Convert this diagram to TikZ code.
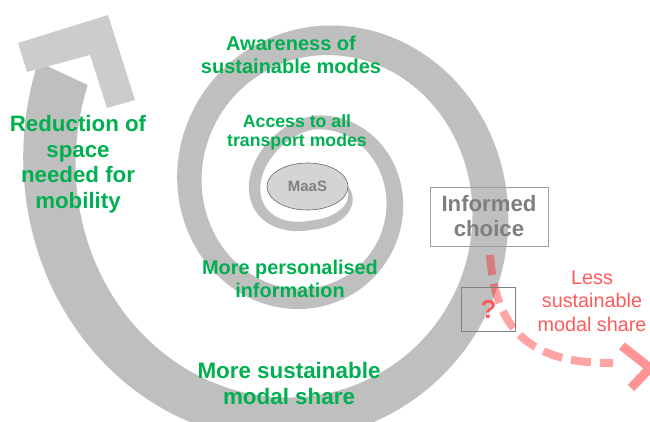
\documentclass[tikz,border=0pt]{standalone}
\usepackage{fontspec}
\setmainfont{Liberation Sans}
\usetikzlibrary{shapes.geometric}
\definecolor{bandgray}{RGB}{191,191,191}
\definecolor{headgray}{RGB}{204,204,204}
\definecolor{greentxt}{RGB}{0,176,80}
\definecolor{graytxt}{RGB}{127,127,127}
\definecolor{boxline}{RGB}{160,160,160}
\definecolor{redtxt}{RGB}{255,90,90}
\definecolor{maasfill}{RGB}{212,212,212}
\begin{document}
\begin{tikzpicture}[x=1pt,y=-1pt,
  declare function={
    spA(\t)=56.5*exp(0.0021213*(\t-180));
    spF(\t)=min(1,max(0.64,0.64+0.36*(\t-90)/180));
    spB(\t)=1.04*spA(\t)*spF(\t);
    spW(\t)=0.2*spA(\t)*min(1,(\t+45)/90);
  },
  greenlbl/.style={text=greentxt, font=\bfseries, align=center, inner sep=0pt},
  graybox/.style={draw=boxline, line width=0.9pt, inner sep=0pt},
  reddash/.style={draw=red, draw opacity=0.36, line width=8pt, dash pattern=on 20pt off 9pt},
  redhead/.style={draw=red, draw opacity=0.42, line width=9pt, line join=miter}]
\useasboundingbox (0,0) rectangle (650,421);
\begin{scope}
\clip (0,0) rectangle (650,421);
% spiral band (logarithmic spiral, widening outwards)
\fill[bandgray]
  plot[domain=-45:925, samples=400, smooth]
    ({311.5+(spA(\x)+spW(\x)/2)*cos(\x)}, {194+(spB(\x)+spW(\x)/2)*sin(\x)})
  -- plot[domain=925:-45, samples=400, smooth]
    ({311.5+(spA(\x)-spW(\x)/2)*cos(\x)}, {194+(spB(\x)-spW(\x)/2)*sin(\x)})
  -- cycle;
% arrow head of the spiral
\fill[headgray] (18,43) -- (108,15) -- (135,100) -- (107,108) -- (90,55) -- (27,72) -- cycle;
% red dashed branch
\coordinate (rs) at (490,255);
\coordinate (re) at (613,363);
\draw[reddash] (rs) .. controls (495,322) and (522,364) .. (re);
\coordinate (h1) at (622,346);
\coordinate (h2) at (650,368);
\coordinate (h3) at (631,388);
\draw[redhead] (h1) -- (h2) -- (h3);
\end{scope}
% MaaS
\node[ellipse, draw=black!60, line width=0.6pt, fill=maasfill, minimum width=81pt, minimum height=47pt,
  inner sep=0pt, text=graytxt, font=\bfseries\fontsize{15}{18}\selectfont] (maas) at (307.5,186.5) {MaaS};
% green labels
\node[greenlbl, font=\bfseries\fontsize{20}{23}\selectfont] (aware) at (291,55) {Awareness of\\sustainable modes};
\node[greenlbl, font=\bfseries\fontsize{17.7}{19}\selectfont] (access) at (297,132) {Access to all\\transport modes};
\node[greenlbl, font=\bfseries\fontsize{22.3}{25.5}\selectfont] (reduc) at (78,164) {Reduction of\\space\\needed for\\mobility};
\node[greenlbl, font=\bfseries\fontsize{19.9}{23}\selectfont] (pers) at (290,279) {More personalised\\information};
\node[greenlbl, font=\bfseries\fontsize{22.4}{26}\selectfont] (share) at (289,383) {More sustainable\\modal share};
% informed choice box
\draw[graybox] (430,187) rectangle (548,246);
\node[inner sep=0pt, align=center, text=graytxt, font=\bfseries\fontsize{22.2}{25}\selectfont] (ic) at (489,216.5) {Informed\\choice};
% question box
\draw[draw=black!50, line width=0.8pt] (461,287) rectangle (515,331);
\node[inner sep=0pt, text=redtxt, font=\bfseries\fontsize{26}{28}\selectfont] (q) at (488.5,309) {?};
% less sustainable label
\node[inner sep=0pt, align=center, text=redtxt, font=\fontsize{19.8}{23.5}\selectfont] (less) at (592,301) {Less\\sustainable\\modal share};
\end{tikzpicture}
\end{document}
